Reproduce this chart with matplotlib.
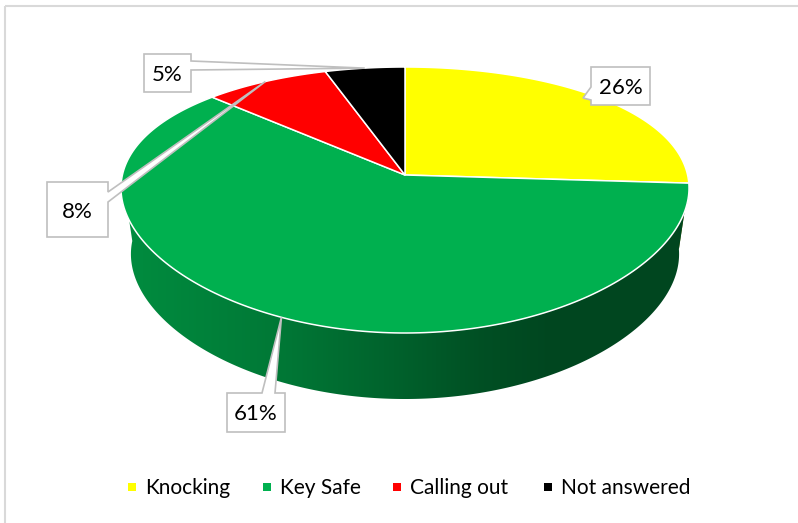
import numpy as np
import matplotlib
matplotlib.use("Agg")
from matplotlib import pyplot as plt
from matplotlib.patches import Polygon, Rectangle

plt.rcParams['font.family'] = ['Lato', 'DejaVu Sans']

# 01 - Data
categories = ['Knocking', 'Key Safe', 'Calling out', 'Not answered']
shares = [26, 61, 8, 5]
colours = [(1.0, 1.0, 0.0), (0.0, 0.69, 0.31), (1.0, 0.0, 0.0), (0.0, 0.0, 0.0)]

# 02 - Pie geometry in pixels (y grows downwards)
cx, cy = 405, 175          # centre of the pie top on screen
rx, ry = 282.6, 128.3
kx, ky = 0.10, 0.188       # perspective strength
depth, shrink = 66, 0.965  # wall height, narrowing of the bottom rim


def rim(theta):
    # theta in degrees, clockwise from the back of the pie
    t = np.radians(theta)
    u, v = np.sin(t), -np.cos(t)
    return cx + rx * u / (1 - kx * v), cy + ry * v / (1 - ky * v)


def base(theta):
    x, y = rim(theta)
    return cx + (x - cx) * shrink, y + depth


# side lighting: bright on the left, dark on the right
shade_x = [122, 283, 383, 483, 550, 700]
shade_f = [0.80, 0.68, 0.57, 0.45, 0.40, 0.40]
columns = np.arange(798) + 0.5
shade = np.interp(columns, shade_x, shade_f)

edges = np.concatenate([[0], np.cumsum(shares)]) / sum(shares) * 360

fig = plt.figure(figsize=(7.98, 5.23), dpi=100)
ax = fig.add_axes([0, 0, 1, 1])
ax.set_xlim(0, 798)
ax.set_ylim(523, 0)
ax.axis('off')

# chart area border (left and top visible)
ax.plot([5, 5], [6, 523], color='#D9D9D9', lw=1.5, solid_capstyle='butt')
ax.plot([5, 798], [6, 6], color='#D9D9D9', lw=1.5, solid_capstyle='butt')

# 03 - Outer wall of each wedge on the front half, filled with a lit gradient
for i in range(len(shares)):
    lo, hi = max(edges[i], 90), min(edges[i + 1], 270)
    if hi <= lo:
        continue
    ts = np.linspace(lo, hi, 300)
    pts = [rim(t) for t in ts] + [base(t) for t in ts[::-1]]
    wall = Polygon(pts, closed=True, facecolor='none', edgecolor='none')
    ax.add_patch(wall)
    grad = shade[None, :, None] * np.array(colours[i])[None, None, :]
    img = ax.imshow(np.repeat(grad, 2, axis=0), extent=(0, 798, 523, 0),
                    aspect='auto', interpolation='bilinear', zorder=1)
    img.set_clip_path(wall)

# 04 - Top face wedges
for i in range(len(shares)):
    ts = np.linspace(edges[i], edges[i + 1], 200)
    pts = [(cx, cy)] + [rim(t) for t in ts]
    ax.add_patch(Polygon(pts, closed=True, facecolor=colours[i], edgecolor='white',
                         lw=1.1, joinstyle='round', zorder=2))

# 05 - Data labels as callouts
boxes = [(591, 67, 650, 105), (227, 393, 285, 432), (47, 182, 108, 237), (144, 54, 191, 92)]
pointer_side = ['left', 'top', 'right', 'right']
pointer_base = [(87, 100), (262, 275), (192, 202), (61, 70)]
pointer_tip = [(583, 98), None, None, None]

for i, s in enumerate(shares):
    x0, y0, x1, y1 = boxes[i]
    b0, b1 = pointer_base[i]
    tip = pointer_tip[i]
    if tip is None:
        tip = rim((edges[i] + edges[i + 1]) / 2)
    side = pointer_side[i]
    if side == 'top':
        pts = [(x0, y0), (b0, y0), tip, (b1, y0), (x1, y0), (x1, y1), (x0, y1)]
    elif side == 'right':
        pts = [(x0, y0), (x1, y0), (x1, b0), tip, (x1, b1), (x1, y1), (x0, y1)]
    else:
        pts = [(x0, y0), (x1, y0), (x1, y1), (x0, y1), (x0, b1), tip, (x0, b0)]
    ax.add_patch(Polygon(pts, closed=True, facecolor='white', edgecolor='#BFBFBF',
                         lw=1.2, zorder=5))
    ax.text((x0 + x1) / 2, (y0 + y1) / 2 + 8, f'{s}%', ha='center', va='baseline',
            fontsize=16, color='black', zorder=6)

# 06 - Legend
legend_x = [128, 263, 393, 544]
for i, name in enumerate(categories):
    ax.add_patch(Rectangle((legend_x[i], 483), 8, 8, facecolor=colours[i], edgecolor='none'))
    ax.text(legend_x[i] + 17, 494, name, ha='left', va='baseline', fontsize=15, color='black')

fig.savefig('out.png', dpi=100)
